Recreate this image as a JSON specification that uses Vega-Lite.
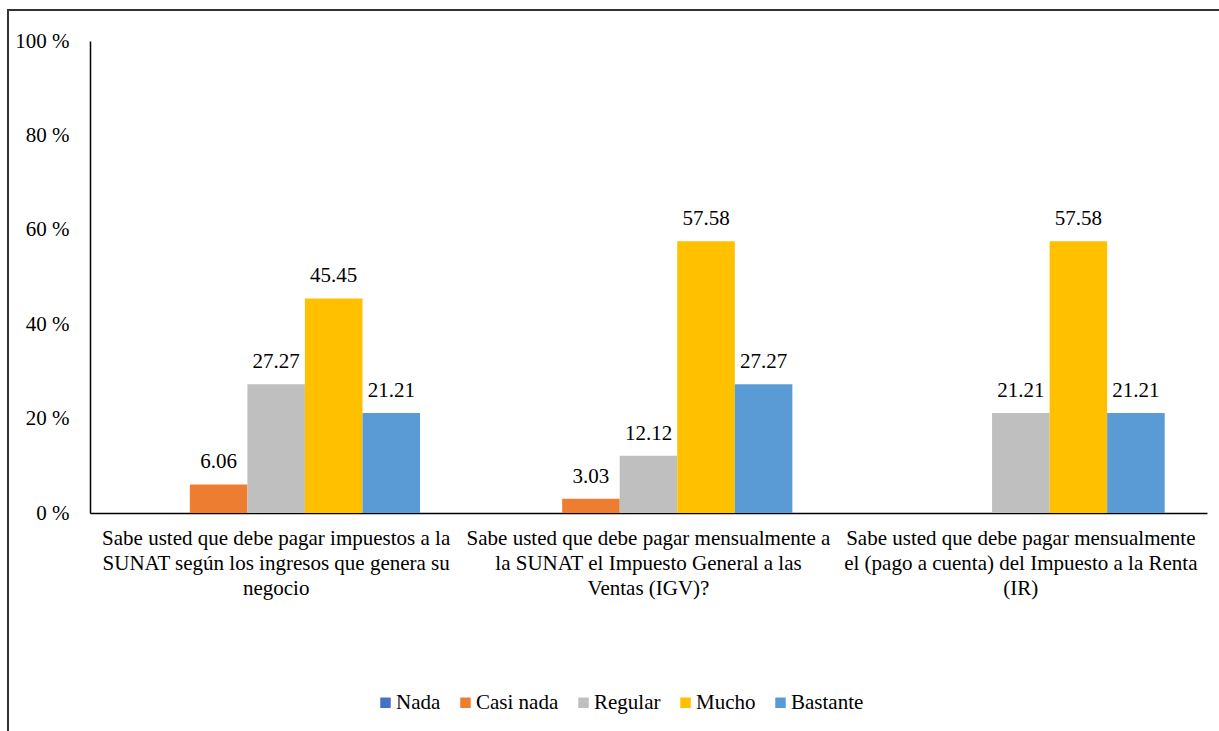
{
  "$schema": "https://vega.github.io/schema/vega-lite/v6.json",
  "width": 1213,
  "height": 723,
  "autosize": {"type": "none"},
  "padding": {"left": 8, "top": 10, "right": -2, "bottom": -2},
  "background": "white",
  "config": {
    "view": {"stroke": "#333333", "strokeWidth": 2},
    "font": "Liberation Serif",
    "text": {"font": "Liberation Serif"},
    "legend": {"labelFont": "Liberation Serif"},
    "axis": {"labelFont": "Liberation Serif"}
  },
  "data": {
    "values": [
      {"q": "Sabe usted que debe pagar impuestos a la|SUNAT según los ingresos que genera su|negocio", "cat": "Nada", "v": 0},
      {"q": "Sabe usted que debe pagar impuestos a la|SUNAT según los ingresos que genera su|negocio", "cat": "Casi nada", "v": 6.06},
      {"q": "Sabe usted que debe pagar impuestos a la|SUNAT según los ingresos que genera su|negocio", "cat": "Regular", "v": 27.27},
      {"q": "Sabe usted que debe pagar impuestos a la|SUNAT según los ingresos que genera su|negocio", "cat": "Mucho", "v": 45.45},
      {"q": "Sabe usted que debe pagar impuestos a la|SUNAT según los ingresos que genera su|negocio", "cat": "Bastante", "v": 21.21},
      {"q": "Sabe usted que debe pagar mensualmente a|la SUNAT el Impuesto General a las|Ventas (IGV)?", "cat": "Nada", "v": 0},
      {"q": "Sabe usted que debe pagar mensualmente a|la SUNAT el Impuesto General a las|Ventas (IGV)?", "cat": "Casi nada", "v": 3.03},
      {"q": "Sabe usted que debe pagar mensualmente a|la SUNAT el Impuesto General a las|Ventas (IGV)?", "cat": "Regular", "v": 12.12},
      {"q": "Sabe usted que debe pagar mensualmente a|la SUNAT el Impuesto General a las|Ventas (IGV)?", "cat": "Mucho", "v": 57.58},
      {"q": "Sabe usted que debe pagar mensualmente a|la SUNAT el Impuesto General a las|Ventas (IGV)?", "cat": "Bastante", "v": 27.27},
      {"q": "Sabe usted que debe pagar mensualmente|el (pago a cuenta) del Impuesto a la Renta|(IR)", "cat": "Nada", "v": 0},
      {"q": "Sabe usted que debe pagar mensualmente|el (pago a cuenta) del Impuesto a la Renta|(IR)", "cat": "Casi nada", "v": 0},
      {"q": "Sabe usted que debe pagar mensualmente|el (pago a cuenta) del Impuesto a la Renta|(IR)", "cat": "Regular", "v": 21.21},
      {"q": "Sabe usted que debe pagar mensualmente|el (pago a cuenta) del Impuesto a la Renta|(IR)", "cat": "Mucho", "v": 57.58},
      {"q": "Sabe usted que debe pagar mensualmente|el (pago a cuenta) del Impuesto a la Renta|(IR)", "cat": "Bastante", "v": 21.21}
    ]
  },
  "encoding": {
    "x": {
      "field": "q",
      "type": "nominal",
      "sort": null,
      "scale": {"range": [82, 1199], "paddingInner": 0, "paddingOuter": 0},
      "axis": {
        "title": null,
        "offset": -220,
        "labelExpr": "split(datum.value, '|')",
        "labelAngle": 0,
        "labelFont": "Liberation Serif",
        "labelFontSize": 21,
        "labelLineHeight": 25,
        "labelPadding": 14,
        "labelBaseline": "top",
        "labelLimit": 500,
        "labelOverlap": false,
        "labelBound": false,
        "labelColor": "#000000",
        "ticks": false,
        "tickSize": 0,
        "domainColor": "#000000",
        "domainWidth": 1.5
      }
    },
    "xOffset": {
      "field": "cat",
      "type": "nominal",
      "scale": {"domain": ["Nada", "Casi nada", "Regular", "Mucho", "Bastante"], "paddingOuter": 0.735, "paddingInner": 0}
    },
    "y": {
      "field": "v",
      "type": "quantitative",
      "scale": {"domain": [0, 100], "range": [503, 31], "nice": false, "zero": true},
      "axis": {
        "title": null,
        "offset": -82,
        "values": [0, 20, 40, 60, 80, 100],
        "labelExpr": "datum.value + ' %'",
        "labelFont": "Liberation Serif",
        "labelFontSize": 21,
        "labelPadding": 21,
        "labelColor": "#000000",
        "ticks": false,
        "tickSize": 0,
        "grid": false,
        "domainColor": "#000000",
        "domainWidth": 1.5
      }
    }
  },
  "layer": [
    {
      "mark": {"type": "bar"},
      "encoding": {
        "color": {
          "field": "cat",
          "type": "nominal",
          "scale": {
            "domain": ["Nada", "Casi nada", "Regular", "Mucho", "Bastante"],
            "range": ["#4472C4", "#ED7D31", "#BFBFBF", "#FFC000", "#5B9BD5"]
          },
          "legend": {
            "orient": "none",
            "legendX": 367,
            "legendY": 682,
            "direction": "horizontal",
            "title": null,
            "symbolType": "square",
            "symbolSize": 110,
            "symbolStrokeWidth": 0,
            "labelFont": "Liberation Serif",
            "labelFontSize": 21,
            "labelColor": "#000000",
            "labelOffset": 0,
            "columnPadding": 14
          }
        }
      }
    },
    {
      "transform": [{"filter": "datum.v > 0"}],
      "mark": {"type": "text", "font": "Liberation Serif", "dy": -16, "baseline": "alphabetic", "fontSize": 21, "color": "#000000"},
      "encoding": {"text": {"field": "v", "type": "quantitative", "format": ".2f"}}
    }
  ]
}
